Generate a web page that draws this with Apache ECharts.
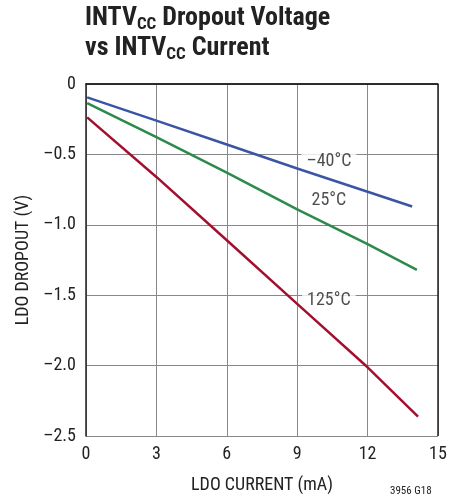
<!DOCTYPE html>
<html><head><meta charset="utf-8">
<script src="https://cdn.jsdelivr.net/npm/echarts@6/dist/echarts.min.js"></script>
<style>html,body{margin:0;padding:0;background:#fff}#c{width:469px;height:501px}</style>
</head><body><div id="c"></div>
<script>
const xTicks = [0, 3, 6, 9, 12, 15];
const yTicks = [0, -0.5, -1.0, -1.5, -2.0, -2.5];
const seriesNames = ['–40°C', '25°C', '125°C'];
const blue = [[0.05, -0.095], [3, -0.26], [6, -0.43], [9, -0.6], [12, -0.765], [13.9, -0.87]];
const green = [[0.05, -0.135], [3, -0.378], [6, -0.63], [9, -0.89], [12, -1.138], [14.1, -1.32]];
const red = [[0.05, -0.237], [3, -0.66], [6, -1.11], [9, -1.562], [12, -2.012], [14.15, -2.363]];
const labelPos = [[10.35, -0.547], [10.35, -0.83], [10.35, -1.54]];

const FONT = "'Roboto Condensed','Liberation Sans Narrow',sans-serif";
const chart = echarts.init(document.getElementById('c'));
const colors = ['#3b55a5', '#2b8a4c', '#a3102f'];
const data = [blue, green, red];
chart.setOption({
  animation: false,
  title: {
    left: 85, top: 3, padding: 0,
    text: '{b|INTV}{s|CC}{b| Dropout Voltage}\n{b|vs INTV}{s|CC}{b| Current}',
    textStyle: {
      rich: {
        b: {fontFamily: FONT, fontWeight: 'bold', fontSize: 26, color: '#222', lineHeight: 30},
        s: {fontFamily: FONT, fontWeight: 'bold', fontSize: 17, color: '#222', verticalAlign: 'bottom', lineHeight: 15}
      }
    }
  },
  graphic: [{
    type: 'text', left: 390, top: 486,
    style: {text: '3956 G18', fontFamily: FONT, fontSize: 11, fill: '#222'}
  }],
  grid: {left: 86, top: 84, width: 352, height: 352, containLabel: false},
  xAxis: {
    type: 'value', min: 0, max: 15, interval: 3,
    name: 'LDO CURRENT (mA)', nameLocation: 'middle', nameGap: 40,
    nameTextStyle: {fontFamily: FONT, fontSize: 18, color: '#222'},
    axisLine: {show: true, lineStyle: {color: '#222', width: 1.5}},
    axisTick: {show: false},
    axisLabel: {fontFamily: FONT, fontSize: 18, color: '#222', margin: 9,
      formatter: v => xTicks.includes(v) ? String(v) : ''},
    splitLine: {show: true, lineStyle: {color: '#888', width: 1}}
  },
  yAxis: {
    type: 'value', min: -2.5, max: 0, interval: 0.5,
    name: 'LDO DROPOUT (V)', nameLocation: 'middle', nameGap: 46, nameRotate: 90,
    nameTextStyle: {fontFamily: FONT, fontSize: 18, color: '#222'},
    axisLine: {show: true, onZero: false, lineStyle: {color: '#222', width: 1.5}},
    axisTick: {show: false},
    axisLabel: {fontFamily: FONT, fontSize: 18, color: '#222', margin: 10,
      formatter: v => {
        const t = yTicks.find(y => Math.abs(y - v) < 1e-9);
        if (t === undefined) return '';
        if (t === 0) return '0';
        return '–' + Math.abs(t).toFixed(1);
      }},
    splitLine: {show: true, lineStyle: {color: '#888', width: 1}}
  },
  series: data.map((d, i) => ({
    type: 'line', name: seriesNames[i], data: d, showSymbol: false, smooth: false,
    lineStyle: {color: colors[i], width: 2.5}, z: 3
  })).concat([{
    type: 'scatter', z: 2, symbolSize: 0, silent: true,
    data: labelPos.map((p, i) => ({value: p, name: seriesNames[i]})),
    label: {show: true, position: 'inside', formatter: p => p.name, fontFamily: FONT, fontSize: 18, color: '#222',
      backgroundColor: '#fff', padding: [1, 5]}
  }, {
    type: 'line', data: [], markLine: {silent: true, symbol: 'none', label: {show: false},
      lineStyle: {color: '#222', width: 1.5, type: 'solid'},
      data: [{xAxis: 15}, {yAxis: 0}]}
  }])
});
</script></body></html>
